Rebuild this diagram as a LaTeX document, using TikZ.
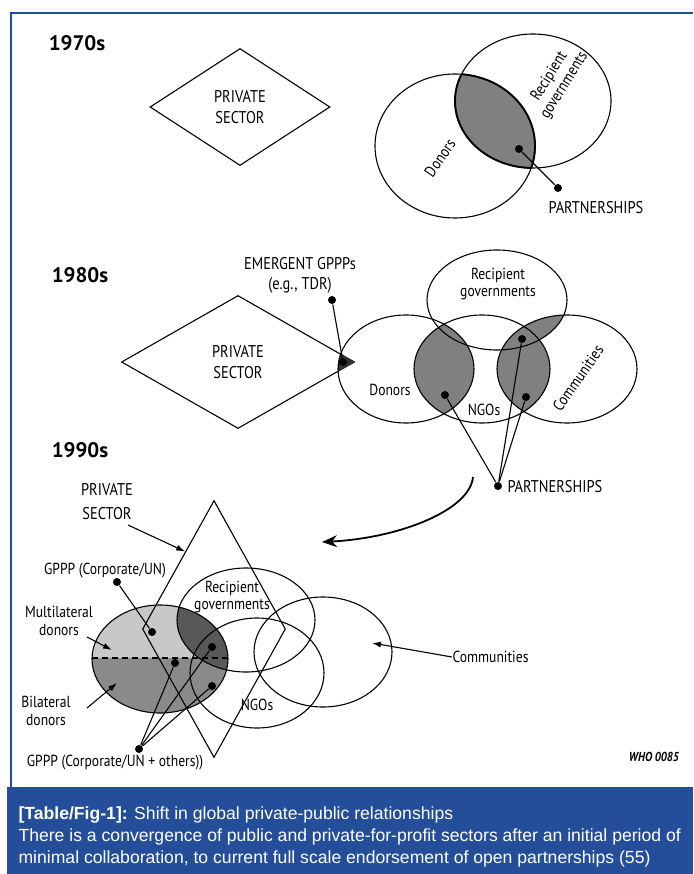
\documentclass[tikz,border=0pt]{standalone}
\usepackage{fontspec}
\setmainfont{Liberation Sans}
\newfontfamily\condfont[FakeStretch=0.85]{PT Sans}
\newfontfamily\yearfont{PT Sans}
\usetikzlibrary{shapes.geometric,arrows.meta,calc}
\definecolor{capblue}{RGB}{36,78,154}
\definecolor{lensgray}{RGB}{128,128,128}
\definecolor{lightgray90}{RGB}{200,200,200}
\definecolor{midgray90}{RGB}{138,138,138}
\definecolor{darkgray90}{RGB}{88,88,88}
\tikzset{
  year/.style={font=\yearfont\bfseries\fontsize{21}{24}\selectfont},
  caps/.style={font=\condfont\fontsize{17}{21}\selectfont, align=center},
  lbl/.style={font=\condfont\fontsize{16}{17.5}\selectfont, align=center},
  captext/.style={font=\fontsize{17.6}{22}\selectfont, text=white, anchor=base west},
  pdot/.style={circle, fill=black, minimum size=8pt},
  pdiam/.style={draw, diamond},
  ptr/.style={-{Latex[length=9pt,width=6pt]}},
  rDon70/.style={x radius=80pt, y radius=72pt},
  rRec70/.style={x radius=78pt, y radius=67pt},
  rDon80/.style={x radius=68pt, y radius=54pt},
  rNgo80/.style={x radius=68pt, y radius=54pt},
  rCom80/.style={x radius=70pt, y radius=54pt},
  rRec80/.style={x radius=70pt, y radius=50pt},
  rDon90/.style={x radius=68pt, y radius=54pt},
  rRec90/.style={x radius=69pt, y radius=52pt},
  rNgo90/.style={x radius=67pt, y radius=55pt},
  rCom90/.style={x radius=69pt, y radius=55pt}
}
\begin{document}
\begin{tikzpicture}[x=1pt, y=1pt, line width=1.1pt]
\tikzstyle{every node}+=[inner sep=0pt]
\useasboundingbox (0,0) rectangle (693,-874);
\draw [capblue, line width=2.5pt] (11,-787) -- (11,-13) -- (693,-13);
\fill [capblue] (7,-787) rectangle (693,-874);

\node [year] (y70) at (77,-43) {1970s};
\node [pdiam, caps, minimum width=180pt, minimum height=117pt] (ps70) at (240,-107) {PRIVATE\\SECTOR};
\coordinate (cDon70) at (455,-146);
\coordinate (cRec70) at (533,-101);
\begin{scope}
\clip (cDon70) ellipse [rDon70];
\fill [lensgray] (cRec70) ellipse [rRec70];
\draw [line width=1.9pt] (cRec70) ellipse [rRec70];
\end{scope}
\begin{scope}
\clip (cRec70) ellipse [rRec70];
\draw [line width=1.9pt] (cDon70) ellipse [rDon70];
\end{scope}
\draw [black] (cDon70) ellipse [rDon70];
\draw [black] (cRec70) ellipse [rRec70];
\node [lbl, rotate=55] (ldon70) at (440,-158) {Donors};
\node [lbl, rotate=58] (lrec70) at (557,-81) {Recipient\\governments};
\node [pdot] (d70a) at (519,-149) {};
\node [pdot] (d70b) at (558,-188) {};
\draw [black] (d70a) -- (d70b);
\node [caps] (lp70) at (596,-208) {PARTNERSHIPS};

\node [year] (y80) at (80,-275) {1980s};
\node [caps, font=\condfont\fontsize{17}{20}\selectfont] (lem80) at (300,-275) {EMERGENT GPPPs\\(e.g., TDR)};
\node [pdiam, caps, minimum width=233pt, minimum height=133pt] (ps80) at (238,-362) {PRIVATE\\SECTOR};
\coordinate (cDon80) at (406,-369);
\coordinate (cNgo80) at (482,-369);
\coordinate (cCom80) at (567,-369);
\coordinate (cRec80) at (497,-300);
\begin{scope}
\clip (cDon80) ellipse [rDon80];
\fill [lensgray] (cNgo80) ellipse [rNgo80];
\fill [black!80] (ps80.north) -- (ps80.east) -- (ps80.south) -- (ps80.west) -- cycle;
\end{scope}
\begin{scope}
\clip (cCom80) ellipse [rCom80];
\fill [lensgray] (cNgo80) ellipse [rNgo80];
\fill [lensgray] (cRec80) ellipse [rRec80];
\end{scope}
\draw [black] (cDon80) ellipse [rDon80];
\draw [black] (cNgo80) ellipse [rNgo80];
\draw [black] (cCom80) ellipse [rCom80];
\draw [black] (cRec80) ellipse [rRec80];
\node [lbl] (lrec80) at (498,-284) {Recipient\\governments};
\node [lbl] (ldon80) at (390,-390) {Donors};
\node [lbl] (lngo80) at (484,-410) {NGOs};
\node [lbl, rotate=55] (lcom80) at (578,-378) {Communities};
\node [pdot] (em80) at (332,-300) {};
\node [pdot] (tip80) at (343,-362) {};
\draw [black] (em80) -- (tip80);
\node [pdot] (d80a) at (445,-395) {};
\node [pdot] (d80b) at (522,-339) {};
\node [pdot] (d80c) at (526,-397) {};
\node [pdot] (p80) at (498,-486) {};
\node [caps, anchor=west] (lp80) at (507,-487) {PARTNERSHIPS};
\draw [black] (p80) -- (d80a);
\draw [black] (p80) -- (d80b);
\draw [black] (p80) -- (d80c);
\coordinate (arcs) at (473,-477);
\coordinate (arce) at (322,-542);
\draw [black, line width=1.8pt, -{Stealth[length=15pt,width=12pt]}] (arcs) .. controls (470,-510) and (400,-538) .. (arce);

\node [year] (y90) at (80,-450) {1990s};
\node [caps, font=\condfont\fontsize{17}{24}\selectfont] (lps90) at (107,-502) {PRIVATE\\SECTOR};
\coordinate (cDon90) at (160,-659);
\coordinate (cRec90) at (246,-620);
\coordinate (cNgo90) at (257,-673);
\coordinate (cCom90) at (323,-652);
\begin{scope}
\clip (cDon90) ellipse [rDon90];
\fill [lightgray90] (80,-560) rectangle (240,-658);
\fill [midgray90] (80,-658) rectangle (240,-720);
\fill [darkgray90] (cRec90) ellipse [rRec90];
\end{scope}
\draw [black] (cDon90) ellipse [rDon90];
\draw [black] (cRec90) ellipse [rRec90];
\draw [black] (cNgo90) ellipse [rNgo90];
\draw [black] (cCom90) ellipse [rCom90];
\coordinate (dl90) at (92,-658);
\coordinate (dr90) at (228,-658);
\draw [black, line width=2pt, dash pattern=on 6pt off 4pt] (dl90) -- (dr90);
\node [pdiam, minimum width=143pt, minimum height=257pt] (ps90) at (214,-629) {};
\coordinate (pt90) at ($(ps90.north)!0.4!(ps90.west)$);
\coordinate (ls90) at (128,-525);
\draw [black, ptr] (ls90) -- (pt90);
\node [lbl] (lgc90) at (105,-571) {GPPP (Corporate/UN)};
\node [lbl] (lml90) at (59,-621) {Multilateral\\donors};
\node [lbl] (lbi90) at (46,-711) {Bilateral\\donors};
\node [lbl] (lrec90) at (232,-597) {Recipient\\governments};
\node [lbl] (lngo90) at (257,-705) {NGOs};
\node [lbl, anchor=west] (lcom90) at (452,-657) {Communities};
\node [lbl] (lgo90) at (115,-763) {GPPP (Corporate/UN + others))};
\node [font=\condfont\bfseries\itshape\fontsize{13}{15}\selectfont] (lwho) at (654,-757) {WHO 0085};
\coordinate (ml90) at (87,-637);
\coordinate (mt90) at (112,-650);
\coordinate (bl90) at (87,-708);
\coordinate (bt90) at (117,-683);
\coordinate (ct90) at (372,-643);
\draw [black, ptr] (ml90) -- (mt90);
\draw [black, ptr] (bl90) -- (bt90);
\draw [black, ptr] (lcom90.west) -- (ct90);
\node [pdot] (g90a) at (117,-582) {};
\node [pdot] (g90b) at (152,-632) {};
\node [pdot] (g90c) at (175,-663) {};
\node [pdot] (g90d) at (212,-647) {};
\node [pdot] (g90e) at (212,-686) {};
\node [pdot] (g90f) at (139,-749) {};
\draw [black] (g90a) -- (g90b);
\draw [black] (g90f) -- (g90c);
\draw [black] (g90f) -- (g90d);
\draw [black] (g90f) -- (g90e);

\node [captext] (cap1) at (18,-819) {\textbf{[Table/Fig-1]:} Shift in global private-public relationships};
\node [captext] (cap2) at (18,-841) {There is a convergence of public and private-for-profit sectors after an initial period of};
\node [captext] (cap3) at (18,-863) {minimal collaboration, to current full scale endorsement of open partnerships (55)};
\end{tikzpicture}
\end{document}
